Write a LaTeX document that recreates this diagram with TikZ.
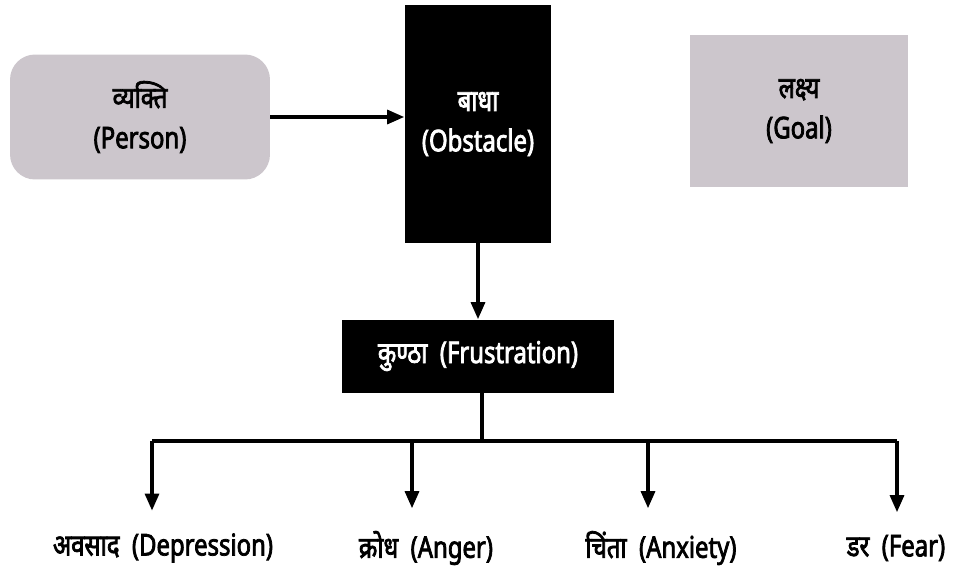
\documentclass[tikz,border=0pt]{standalone}
\usepackage{fontspec}
\setmainfont[Script=Devanagari,FakeStretch=0.8,AutoFakeBold=2.5]{Noto Sans}
\usetikzlibrary{arrows.meta,positioning}
\definecolor{boxgray}{RGB}{204,198,204}

\begin{document}
\begin{tikzpicture}[
  x=0.02cm, y=-0.02cm,
  every node/.style={font=\bfseries\fontsize{17}{23}\selectfont, align=center},
  softbox/.style={fill=boxgray, text=black, inner sep=0pt},
  darkbox/.style={fill=black, text=white, inner sep=0pt},
  link/.style={line width=1.8pt, -{Triangle[length=3.4mm,width=2.8mm]}},
  bar/.style={line width=1.8pt},
  leaf/.style={inner sep=0pt}
]
\useasboundingbox (0,0) rectangle (962,566);

% top row
\node[softbox, rounded corners=0.5cm, minimum width=5.2cm, minimum height=2.5cm]
  (person) at (140,117) {व्यक्ति\\(Person)};
\node[darkbox, minimum width=2.94cm, minimum height=4.76cm]
  (obstacle) at (478,124) {बाधा\\(Obstacle)};
\node[softbox, minimum width=4.36cm, minimum height=3.06cm]
  (goal) at (799,111) {लक्ष्य\\(Goal)};

% middle
\node[darkbox, minimum width=5.46cm, minimum height=1.46cm]
  (frust) at (478,356) {कुण्ठा\ \ (Frustration)};

% reactions
\node[leaf] (depr) at (163,548) {अवसाद\ \ (Depression)};
\node[leaf] (anger) at (426,548) {क्रोध\ \ (Anger)};
\node[leaf] (anx) at (661,548) {चिंता\ \ (Anxiety)};
\node[leaf] (fear) at (896,548) {डर\ \ (Fear)};

\coordinate (hub) at (482,441);
\coordinate (b1) at (152,441);
\coordinate (b2) at (412,441);
\coordinate (b3) at (648,441);
\coordinate (b4) at (897,441);

\draw[link] (person.east) -- (person.east -| obstacle.west);
\draw[link] (obstacle) -- (frust);
\draw[bar] (frust.south -| hub) -- (hub);
\draw[bar] (b1) -- (b4);
\draw[link, shorten >=0.45cm] (b1) -- (b1 |- depr.north);
\draw[link, shorten >=0.45cm] (b2) -- (b2 |- anger.north);
\draw[link, shorten >=0.45cm] (b3) -- (b3 |- anx.north);
\draw[link, shorten >=0.45cm] (b4) -- (b4 |- fear.north);

\end{tikzpicture}
\end{document}
